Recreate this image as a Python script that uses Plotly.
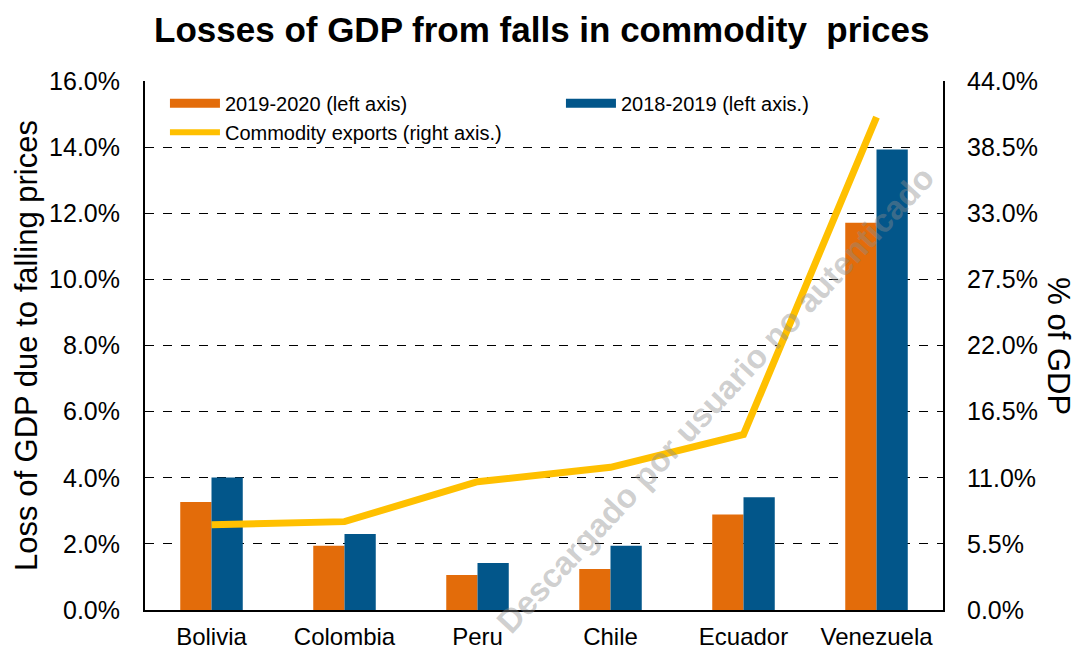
import plotly.graph_objects as go

# Data
countries = ["Bolivia", "Colombia", "Peru", "Chile", "Ecuador", "Venezuela"]
loss_2019_2020 = [3.27, 1.94, 1.06, 1.24, 2.89, 11.71]   # % of GDP, left axis
loss_2018_2019 = [4.01, 2.30, 1.42, 1.94, 3.41, 13.93]   # % of GDP, left axis
commodity_exports = [7.1, 7.35, 10.67, 11.87, 14.6, 41.0]  # % of GDP, right axis

ORANGE = "#E36C0A"
BLUE = "#02568A"
YELLOW = "#FFC000"
FONT = "Liberation Sans, Arial, sans-serif"

fig = go.Figure()

fig.add_trace(go.Bar(
    x=countries, y=[v / 100 for v in loss_2019_2020], name="2019-2020 (left axis)",
    marker=dict(color=ORANGE, line=dict(width=0)), showlegend=False, legendgroup="a",
))
fig.add_trace(go.Bar(
    x=countries, y=[v / 100 for v in loss_2018_2019], name="2018-2019 (left axis.)",
    marker=dict(color=BLUE, line=dict(width=0)), showlegend=False, legendgroup="b",
))
fig.add_trace(go.Scatter(
    x=countries, y=[v / 100 for v in commodity_exports], yaxis="y2",
    mode="lines", line=dict(color=YELLOW, width=7), showlegend=False, legendgroup="c",
))

# Legend keys drawn as wide swatches
fig.add_trace(go.Scatter(x=[None], y=[None], mode="lines", name="2019-2020 (left axis)",
                         line=dict(color=ORANGE, width=9), legendgroup="a"))
fig.add_trace(go.Scatter(x=[None], y=[None], mode="lines", name="2018-2019 (left axis.)",
                         line=dict(color=BLUE, width=9), legendgroup="b"))
fig.add_trace(go.Scatter(x=[None], y=[None], mode="lines", name="Commodity exports (right axis.)",
                         line=dict(color=YELLOW, width=6), legendgroup="c"))

fig.update_layout(
    width=1077, height=652,
    margin=dict(l=145, r=134, t=81, b=42),
    paper_bgcolor="white", plot_bgcolor="white",
    font=dict(family=FONT, color="black"),
    barmode="group", bargap=0.53, bargroupgap=0,
    title=dict(text="<b>Losses of GDP from falls in commodity  prices</b>",
               x=0.503, xanchor="center", y=0.955, yanchor="middle",
               font=dict(size=35, family=FONT, color="black")),
    xaxis=dict(
        showline=True, linecolor="black", linewidth=2,
        ticks="outside", ticklen=4, tickcolor="rgba(0,0,0,0)",
        tickfont=dict(size=24), showgrid=False, automargin=False,
    ),
    yaxis=dict(
        range=[0, 0.16], dtick=0.02, tickformat=".1%",
        showline=True, linecolor="black", linewidth=2,
        showgrid=True, gridcolor="black", griddash="dash", gridwidth=1.3,
        zeroline=False, automargin=False,
        ticks="outside", ticklen=18, tickcolor="rgba(0,0,0,0)",
        tickfont=dict(size=25),
        title=dict(text="Loss of GDP due to falling prices", font=dict(size=31), standoff=2),
    ),
    yaxis2=dict(
        range=[0, 0.44], dtick=0.055, tickformat=".1%",
        overlaying="y", side="right",
        showline=True, linecolor="black", linewidth=2,
        showgrid=False, zeroline=False, automargin=False,
        ticks="outside", ticklen=17, tickcolor="rgba(0,0,0,0)",
        tickfont=dict(size=25),
    ),
    legend=dict(
        orientation="h", x=0.025, xanchor="left", y=0.995, yanchor="top",
        bgcolor="rgba(255,255,255,0)", borderwidth=0,
        font=dict(size=20), itemwidth=50,
        entrywidth=331, entrywidthmode="pixels",
        traceorder="normal", tracegroupgap=0,
    ),
)

# Right-axis title, reading top to bottom
fig.add_annotation(
    text="% of GDP", xref="paper", yref="paper", x=1.145, y=0.499,
    xanchor="center", yanchor="middle", showarrow=False, textangle=90,
    font=dict(size=31, family=FONT, color="black"),
)

# Diagonal watermark
fig.add_annotation(
    text="<b>Descargado por usuario no autenticado</b>",
    xref="paper", yref="paper", x=0.715, y=0.397,
    xanchor="center", yanchor="middle",
    showarrow=False, textangle=-47,
    font=dict(size=33, family=FONT, color="rgba(140,140,140,0.42)"),
)

fig.write_html("out.html")
